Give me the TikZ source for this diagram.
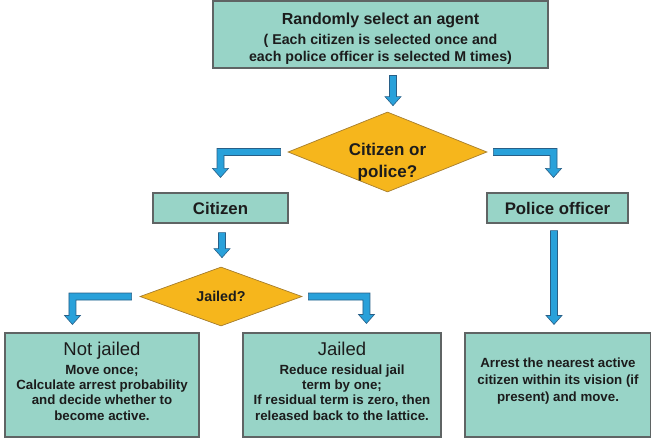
\documentclass[tikz,border=0pt]{standalone}
\usepackage{fontspec}
\setmainfont{Liberation Sans}
\usetikzlibrary{shapes.geometric,calc}
\definecolor{boxfill}{RGB}{152,212,199}
\definecolor{boxline}{RGB}{95,100,100}
\definecolor{dfill}{RGB}{246,182,28}
\definecolor{dline}{RGB}{165,125,45}
\definecolor{afill}{RGB}{41,161,218}
\definecolor{aline}{RGB}{40,95,135}
\definecolor{txt}{RGB}{28,28,28}
\tikzset{
  box/.style={rectangle, draw=boxline, fill=boxfill, line width=1.1pt, inner sep=2pt, align=center, text=txt, font=\bfseries},
  dec/.style={diamond, shape aspect=2.5, draw=dline, fill=dfill, line width=0.7pt, inner sep=0pt, align=center, text=txt, font=\bfseries},
  blockarrow/.style={fill=afill, draw=aline, line width=0.6pt, line join=miter},
  bodyfont/.style={font=\bfseries\fontsize{13.3}{15.2}\selectfont},
}
\newcommand{\vblock}[2]{%
  \path let \p1=(#1), \p2=(#2) in [blockarrow]
    ({\x1-3.5pt},{\y1}) -- ({\x1-3.5pt},{\y2+9pt}) -- ({\x1-8pt},{\y2+9pt}) -- (\x1,\y2)
    -- ({\x1+8pt},{\y2+9pt}) -- ({\x1+3.5pt},{\y2+9pt}) -- ({\x1+3.5pt},{\y1}) -- cycle;}
\newcommand{\bentblock}[3]{%
  \path let \p1=(#1), \p2=(#2) in [blockarrow]
    ({\x1},{\y1+3.5pt}) -- ({\x2+(#3)*3.5pt},{\y1+3.5pt}) -- ({\x2+(#3)*3.5pt},{\y2+9pt})
    -- ({\x2+(#3)*8pt},{\y2+9pt}) -- (\x2,\y2) -- ({\x2-(#3)*8pt},{\y2+9pt})
    -- ({\x2-(#3)*3.5pt},{\y2+9pt}) -- ({\x2-(#3)*3.5pt},{\y1-3.5pt}) -- ({\x1},{\y1-3.5pt}) -- cycle;}
\begin{document}
\begin{tikzpicture}[x=1pt,y=-1pt]
\useasboundingbox (0,0) rectangle (651,441);
% nodes
\node[box, minimum width=335pt, minimum height=67pt, font=\bfseries\fontsize{14.2}{17}\selectfont] (top) at (380.5,34.5)
  {{\fontsize{16}{18}\selectfont\rule{0pt}{19pt}Randomly select an agent}\\[3pt]
   ( Each citizen is selected once and\\
   each police officer is selected M times)};
\node[dec, minimum width=199pt, minimum height=80pt, font=\bfseries\fontsize{17}{22}\selectfont] (d1) at (387.5,152)
  {Citizen or\\ police?\\[-38pt]};
\node[box, minimum width=135pt, minimum height=30pt, font=\bfseries\fontsize{16.8}{18}\selectfont] (cit) at (220.5,208) {Citizen};
\node[box, minimum width=141pt, minimum height=30pt, font=\bfseries\fontsize{16.8}{18}\selectfont] (pol) at (557.5,208) {Police officer};
\node[dec, minimum width=162pt, minimum height=59pt, font=\bfseries\fontsize{14.3}{16}\selectfont] (d2) at (221,296.5) {Jailed?};
\node[box, bodyfont, minimum width=194pt, minimum height=104pt] (nj) at (102,385)
  {{\mdseries\fontsize{18.5}{20}\selectfont Not jailed}\\[4pt]
   Move once;\\
   Calculate arrest probability\\
   and decide whether to\\
   become active.\\[-7pt]};
\node[box, bodyfont, minimum width=198pt, minimum height=104pt] (jb) at (342,385)
  {{\mdseries\fontsize{18.5}{20}\selectfont Jailed}\\[4pt]
   Reduce residual jail\\
   term by one;\\
   If residual term is zero, then\\
   released back to the lattice.\\[-7pt]};
\node[box, font=\bfseries\fontsize{13.3}{17}\selectfont, minimum width=186pt, minimum height=104pt] (pb) at (558,385)
  {Arrest the nearest active\\
   citizen within its vision (if\\
   present) and move.\\[-7pt]};
% connectors
\vblock{$(top.south)+(12.5,7)$}{$(d1.north)+(5.5,-6)$}
\bentblock{$(d1.west)+(-7,0)$}{$(cit.north)+(0,-15)$}{-1}
\bentblock{$(d1.east)+(6,0)$}{$(pol.north)+(-4,-15)$}{1}
\vblock{$(cit.south)+(1.5,9)$}{$(d2.north)+(1,-9)$}
\bentblock{$(d2.west)+(-8,0)$}{$(nj.north west)+(68,-8)$}{-1}
\bentblock{$(d2.east)+(6,0)$}{$(jb.north west)+(124,-9)$}{1}
\vblock{$(pol.south)+(-3.5,7)$}{$(pb.north)+(-4,-8)$}
\end{tikzpicture}
\end{document}
